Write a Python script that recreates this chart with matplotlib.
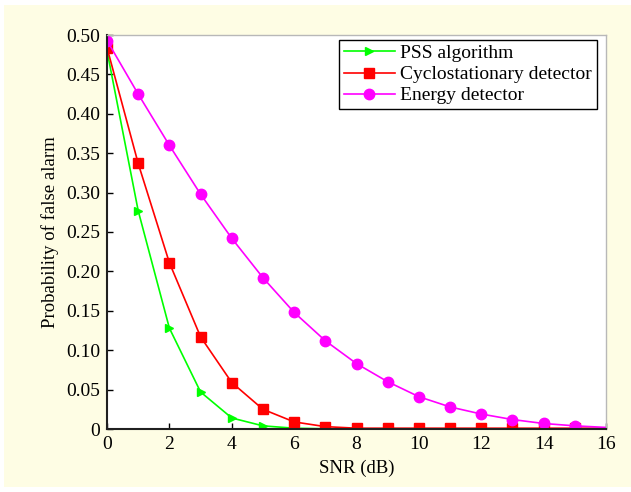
import matplotlib.pyplot as plt
from matplotlib.patches import Rectangle
import numpy as np

plt.rcParams['font.family'] = ['Liberation Serif', 'DejaVu Serif']

snr = np.arange(0, 17)
pss = [0.480, 0.277, 0.128, 0.047, 0.014, 0.004, 0.001, 0.0003, 0.0001, 0, 0, 0, 0, 0, 0, 0, 0]
cyclo = [0.484, 0.337, 0.211, 0.117, 0.059, 0.025, 0.009, 0.003, 0.001, 0.001, 0.001,
         0.001, 0.001, 0.001, 0.001, 0.001, 0.001]
energy = [0.493, 0.425, 0.360, 0.298, 0.242, 0.192, 0.148, 0.112, 0.083, 0.060, 0.041,
          0.028, 0.019, 0.012, 0.007, 0.004, 0.002]

yticks = [0, 0.05, 0.10, 0.15, 0.20, 0.25, 0.30, 0.35, 0.40, 0.45, 0.50]
ylabels = ['0', '0.05', '0.10', '0.15', '0.20', '0.25', '0.30', '0.35', '0.40', '0.45', '0.50']
xticks = [0, 2, 4, 6, 8, 10, 12, 14, 16]

fig = plt.figure(figsize=(6.31, 4.92), dpi=100, facecolor='white')
fig.patches.append(Rectangle((4 / 631, 5 / 492), 627 / 631, 482 / 492,
                             transform=fig.transFigure, facecolor='#fefde4',
                             edgecolor='none', zorder=-10))
ax = fig.add_axes([107 / 631, 1 - 429 / 492, 499 / 631, 394 / 492])

ax.plot(snr, pss, color='#00ff00', lw=1.2, marker='>', ms=6, markevery=range(16),
        label='PSS algorithm')
ax.plot(snr, cyclo, color='#ff0000', lw=1.2, marker='s', ms=6.5, markevery=range(16),
        label='Cyclostationary detector')
ax.plot(snr, energy, color='#ff00ff', lw=1.2, marker='o', ms=7.5, markevery=range(16),
        label='Energy detector')

ax.set_xlim(0, 16)
ax.set_ylim(0, 0.5)
ax.set_xticks(xticks)
ax.set_yticks(yticks)
ax.set_yticklabels(ylabels)
ax.tick_params(direction='in', labelsize=14, top=False, right=False, length=4, width=1, pad=5)
for s in ['top', 'right']:
    ax.spines[s].set_color('#b8b8b8')
    ax.spines[s].set_linewidth(1.0)
for s in ['left', 'bottom']:
    ax.spines[s].set_color('#202020')
    ax.spines[s].set_linewidth(1.5)

ax.set_xlabel('SNR (dB)', fontsize=13.5, labelpad=5)
ax.set_ylabel('Probability of false alarm', fontsize=13.5, labelpad=5)

leg = ax.legend(loc='upper right', bbox_to_anchor=(0.982, 0.988), fontsize=14,
                fancybox=False, framealpha=1, edgecolor='black', handlelength=2.6,
                borderpad=0.25, labelspacing=0.18, borderaxespad=0, handletextpad=0.3)
leg.get_frame().set_linewidth(1.0)

fig.savefig('out.png', dpi=100, facecolor=fig.get_facecolor())
